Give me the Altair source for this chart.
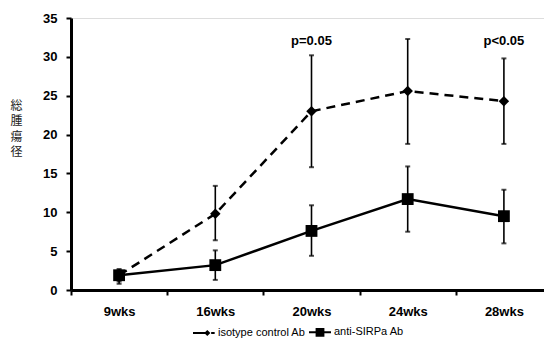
import altair as alt
import pandas as pd

weeks = ["9wks", "16wks", "20wks", "24wks", "28wks"]
series_names = ["isotype control Ab", "anti-SIRPa Ab"]
iso_mean = [1.9, 9.8, 23.0, 25.6, 24.3]
iso_lo = [1.1, 6.4, 15.8, 18.8, 18.8]
iso_hi = [2.5, 13.4, 30.2, 32.3, 29.8]
anti_mean = [1.9, 3.2, 7.6, 11.7, 9.5]
anti_lo = [0.8, 1.3, 4.4, 7.5, 6.0]
anti_hi = [2.7, 5.1, 10.9, 15.9, 12.9]
ann_weeks = ["20wks", "28wks"]
ann_texts = ["p=0.05", "p<0.05"]
ann_y = [32.0, 32.0]

rows = []
for i, w in enumerate(weeks):
    rows.append(dict(week=w, series=series_names[0], mean=iso_mean[i], lo=iso_lo[i], hi=iso_hi[i]))
    rows.append(dict(week=w, series=series_names[1], mean=anti_mean[i], lo=anti_lo[i], hi=anti_hi[i]))
df = pd.DataFrame(rows)
ann = pd.DataFrame(dict(week=ann_weeks, text=ann_texts, y=ann_y))

FONT = "Liberation Sans"

xscale = alt.Scale(domain=weeks, range=[0, 481], paddingInner=0, paddingOuter=0)
xaxis = alt.Axis(
    title=None, labelAngle=0, tickBand="extent", tickSize=5, tickWidth=2,
    tickColor="black", domainColor="black", domainWidth=3,
    labelFont=FONT, labelFontSize=13, labelFontWeight="bold", labelColor="black",
    labelPadding=10,
)
yscale = alt.Scale(domain=[0, 35], nice=False, zero=True)
yaxis = alt.Axis(
    title=["総", "腫", "瘍", "径"], titleAngle=0, titleAlign="center", titleBaseline="top",
    titleX=-55, titleY=82, titleFont="Noto Sans CJK JP", titleFontSize=12,
    titleFontWeight="normal", titleColor="#222", titleLineHeight=15.5,
    values=[0, 5, 10, 15, 20, 25, 30, 35], labelOverlap=False, grid=False,
    tickSize=5, tickWidth=2,
    tickColor="black", domainColor="black", domainWidth=3,
    labelFont=FONT, labelFontSize=13, labelFontWeight="bold", labelColor="black",
    labelPadding=9,
)


def X():
    return alt.X("week:N", sort=weeks, scale=xscale, axis=xaxis)


def Y(field):
    return alt.Y(field, scale=yscale, axis=yaxis)


base = alt.Chart(df)
iso_df = base.transform_filter(alt.datum.series == series_names[0])
anti_df = base.transform_filter(alt.datum.series == series_names[1])

line_iso = iso_df.mark_line(color="black", strokeWidth=2.5, strokeDash=[9, 6]).encode(
    x=X(), y=Y("mean:Q")
)
line_anti = anti_df.mark_line(color="black", strokeWidth=2.5).encode(x=X(), y=Y("mean:Q"))

rules = base.mark_rule(color="black", strokeWidth=1.6).encode(x=X(), y=Y("lo:Q"), y2="hi:Q")
cap_hi = base.mark_tick(color="black", orient="horizontal", size=5, thickness=2).encode(
    x=X(), y=Y("hi:Q")
)
cap_lo = base.mark_tick(color="black", orient="horizontal", size=5, thickness=2).encode(
    x=X(), y=Y("lo:Q")
)

pts_iso = iso_df.mark_point(
    shape="diamond", filled=True, color="black", size=110, opacity=1
).encode(x=X(), y=Y("mean:Q"))
pts_anti = anti_df.mark_point(
    shape="square", filled=True, color="black", size=140, opacity=1
).encode(x=X(), y=Y("mean:Q"))

texts = alt.Chart(ann).mark_text(
    font=FONT, fontSize=13, fontWeight="bold", color="black", baseline="middle"
).encode(x=X(), y=Y("y:Q"), text="text:N")

# legend glyphs: line + marker drawn as filled shapes (unit square -1..1)
sym_iso = (
    "M-1,-0.09H0.1V0.09H-1Z"
    "M0.65,-0.09H0.97V0.09H0.65Z"
    "M0.02,0L0.3,-0.28L0.58,0L0.3,0.28Z"
)
sym_anti = "M-1,-0.09H1V0.09H-1ZM-0.4,-0.4H0.4V0.4H-0.4Z"

legend_layer = base.transform_filter(alt.datum.week == weeks[0]).mark_point(
    filled=True, color="black", size=484, opacity=0
).encode(
    x=X(),
    y=Y("mean:Q"),
    shape=alt.Shape(
        "series:N",
        scale=alt.Scale(domain=series_names, range=[sym_iso, sym_anti]),
        legend=alt.Legend(
            title=None, orient="none", direction="horizontal", legendX=121, legendY=302,
            padding=0, symbolSize=484, symbolFillColor="black",
            symbolOpacity=1, labelFont=FONT, labelFontSize=11,
            labelColor="black", labelOffset=2, columnPadding=0,
        ),
    ),
)

chart = alt.layer(
    line_iso, line_anti, rules, cap_hi, cap_lo, pts_iso, pts_anti, texts, legend_layer
).properties(
    width=473, height=272,
    autosize=alt.AutoSizeParams(type="none"),
    padding={"left": 71, "top": 18, "right": 0, "bottom": 49},
).configure_view(stroke=None).configure(background="white")

chart.save("out.html", embed_options={"renderer": "svg", "actions": False})
